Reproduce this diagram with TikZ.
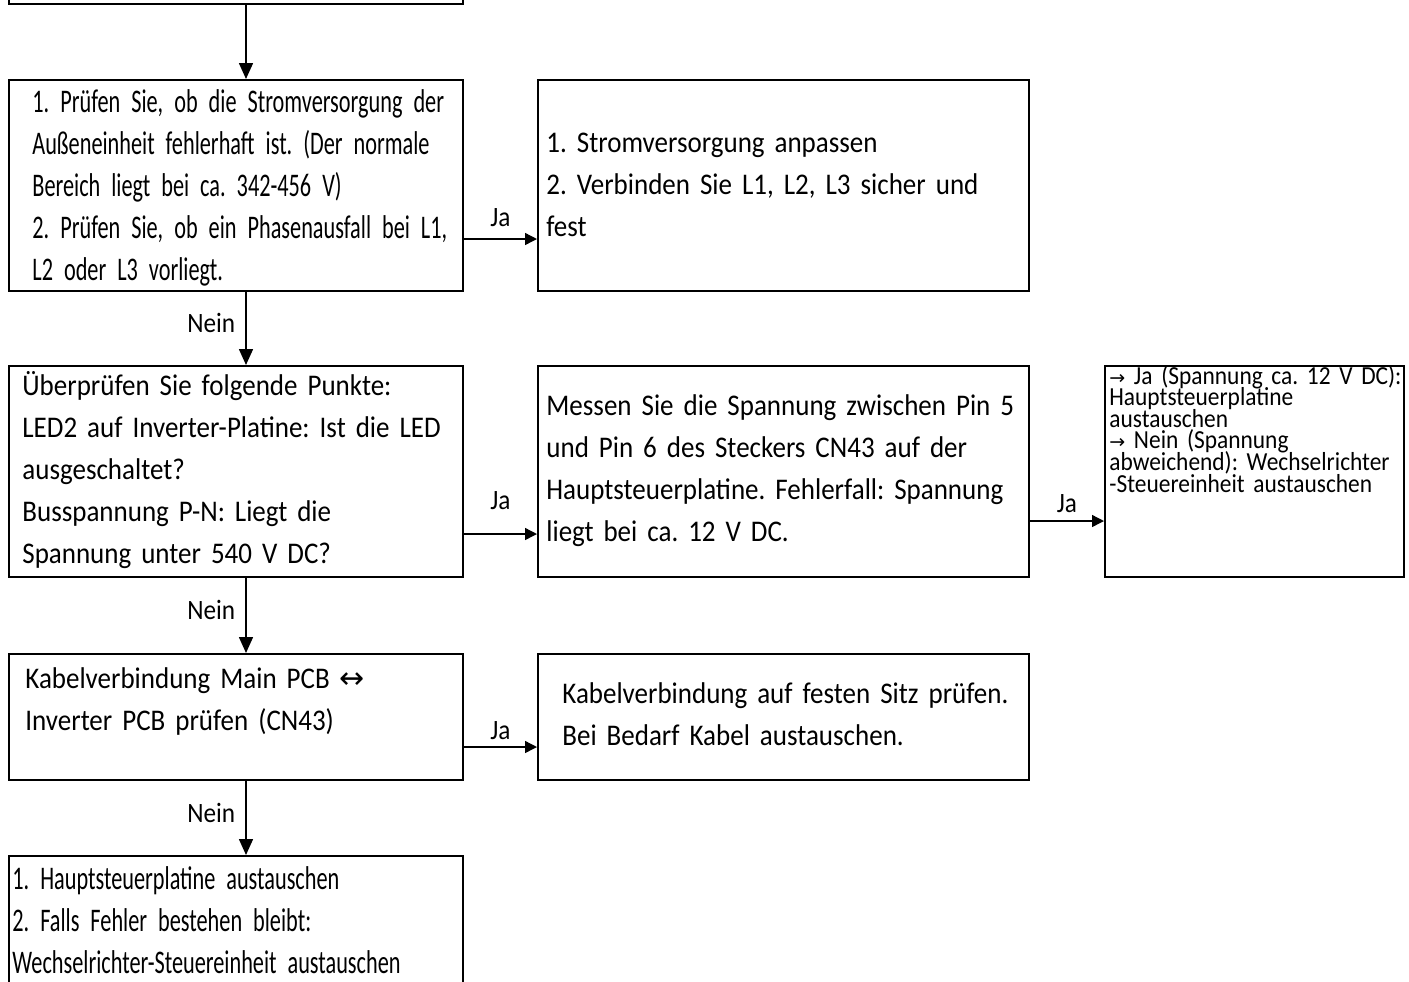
\documentclass[tikz,border=0pt]{standalone}
\usepackage{fontspec}
\setmainfont{Carlito}
\newfontfamily\bodyfont{Carlito}[FakeStretch=0.90]
\newfontfamily\slimfont{Carlito}[FakeStretch=0.675]
\newfontfamily\symfont{DejaVu Sans}
\usetikzlibrary{arrows.meta}

\newcommand\widetext{\bodyfont\fontsize{15}{21}\selectfont\fontdimen2\font=0.2em\relax}
\newcommand\slimtext{\slimfont\fontsize{16.5}{21}\selectfont\fontdimen2\font=0.12em\relax}
\newcommand\smalltext{\bodyfont\fontsize{13}{10.8}\selectfont\fontdimen2\font=0.15em\relax\lineskiplimit=-20pt\relax}
\newcommand\sidearrow{{\symfont\fontsize{9.5}{10}\selectfont →}}

\tikzset{
  frame/.style={draw, line width=1pt, inner sep=0pt, anchor=north west},
  body/.style={inner sep=0pt, anchor=base west, align=left, text width=#1},
  wide/.style={font=\widetext},
  slim/.style={font=\slimtext},
  small/.style={font=\smalltext},
  flow/.style={line width=0.8pt, -{Triangle[length=8pt,width=7pt]}},
  side/.style={line width=0.7pt, -{Triangle[length=6pt,width=6pt]}},
  answer/.style={font=\bodyfont\fontsize{14}{16}\selectfont, inner sep=0pt}
}

\begin{document}
\frenchspacing
\begin{tikzpicture}[x=0.5pt,y=-0.5pt]
\useasboundingbox (0,0) rectangle (1409,981);
\clip (0,0) rectangle (1409,981);

% frames
\node[frame, minimum width=227pt, minimum height=40pt] (start) at (8,-77) {};
\node[frame, minimum width=227pt, minimum height=105.5pt] (pruef) at (8,79) {};
\node[frame, minimum width=245.5pt, minimum height=105.5pt] (anpassen) at (537,79) {};
\node[frame, minimum width=227pt, minimum height=105.5pt] (punkte) at (8,365) {};
\node[frame, minimum width=245.5pt, minimum height=105.5pt] (messen) at (537,365) {};
\node[frame, minimum width=149.5pt, minimum height=105.5pt] (tausch) at (1104,365) {};
\node[frame, minimum width=227pt, minimum height=63pt] (kabel) at (8,653) {};
\node[frame, minimum width=245.5pt, minimum height=63pt] (sitz) at (537,653) {};
\node[frame, minimum width=227pt, minimum height=80pt] (platine) at (8,855) {};

% texts
\node[body=300pt, slim] (pruef-t) at (32,112) {1. Prüfen Sie, ob die Stromversorgung der\\
  Außeneinheit fehlerhaft ist. (Der normale\\
  Bereich liegt bei ca. 342-456 V)\\
  2. Prüfen Sie, ob ein Phasenausfall bei L1,\\
  L2 oder L3 vorliegt.};
\node[body=300pt, wide] (anpassen-t) at (546,152) {1. Stromversorgung anpassen\\
  2. Verbinden Sie L1, L2, L3 sicher und\\
  fest};
\node[body=300pt, wide] (punkte-t) at (22,395) {Überprüfen Sie folgende Punkte:\\
  LED2 auf Inverter-Platine: Ist die LED\\
  ausgeschaltet?\\
  Busspannung P-N: Liegt die\\
  Spannung unter 540 V DC?};
\node[body=300pt, wide] (messen-t) at (546,415) {Messen Sie die Spannung zwischen Pin 5\\
  und Pin 6 des Steckers CN43 auf der\\
  Hauptsteuerplatine. Fehlerfall: Spannung\\
  liegt bei ca. 12 V DC.};
\node[body=200pt, small] (tausch-t) at (1109,384) {\sidearrow{} Ja (Spannung ca. 12 V DC):\\
  Hauptsteuerplatine\\
  austauschen\\
  \sidearrow{} Nein (Spannung\\
  abweichend): Wechselrichter\\
  -Steuereinheit austauschen};
\node[body=300pt, wide] (kabel-t) at (25,688) {Kabelverbindung Main PCB {\symfont\fontsize{15}{15}\selectfont ↔}\\
  Inverter PCB prüfen (CN43)};
\node[body=300pt, wide] (sitz-t) at (562,703) {Kabelverbindung auf festen Sitz prüfen.\\
  Bei Bedarf Kabel austauschen.};
\node[body=300pt, slim] (platine-t) at (12,889) {1. Hauptsteuerplatine austauschen\\
  2. Falls Fehler bestehen bleibt:\\
  Wechselrichter-Steuereinheit austauschen};

% down the left column
\draw[flow] ([xshift=5pt]start.south) -- ([xshift=5pt]pruef.north);
\draw[flow] ([xshift=5pt]pruef.south) -- node[answer, left=5pt, pos=0.43] (nein1) {Nein} ([xshift=5pt]punkte.north);
\draw[flow] ([xshift=5pt]punkte.south) -- node[answer, left=5pt, pos=0.43] (nein2) {Nein} ([xshift=5pt]kabel.north);
\draw[flow] ([xshift=5pt]kabel.south) -- node[answer, left=5pt, pos=0.43] (nein3) {Nein} ([xshift=5pt]platine.north);

% the yes branches
\draw[side] ([yshift=-26.75pt]pruef.east) -- node[answer, above=6pt] (ja1) {Ja} ([yshift=-26.75pt]anpassen.west);
\draw[side] ([yshift=-31.25pt]punkte.east) -- node[answer, above=12pt] (ja2) {Ja} ([yshift=-31.25pt]messen.west);
\draw[side] ([yshift=-24.75pt]messen.east) -- node[answer, above=4pt] (ja3) {Ja} ([yshift=-24.75pt]tausch.west);
\draw[side] ([yshift=-15pt]kabel.east) -- node[answer, above=3.5pt] (ja4) {Ja} ([yshift=-15pt]sitz.west);

\end{tikzpicture}
\end{document}
